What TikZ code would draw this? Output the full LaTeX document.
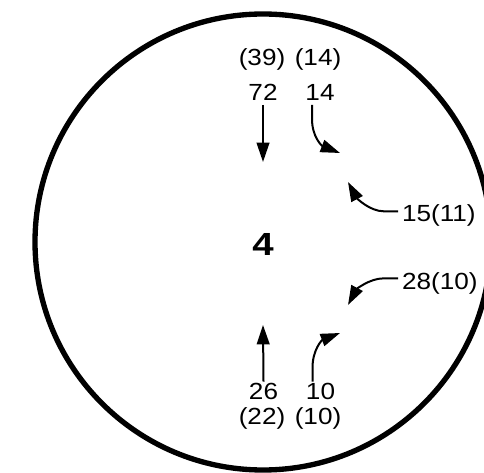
\documentclass[tikz,border=0pt]{standalone}
\usepackage{fontspec}
\setmainfont{Liberation Sans}
\usetikzlibrary{arrows.meta}
\tikzset{
  num/.style={inner sep=3pt, outer sep=0pt, anchor=base, font=\fontsize{17.5pt}{19pt}\selectfont},
  numw/.style={num, anchor=base west},
  big/.style={inner sep=0pt, anchor=center, font=\fontsize{24pt}{26pt}\selectfont\bfseries},
  flow/.style={line width=1.5pt, -{Triangle[length=14.5pt,width=9.5pt]}},
  cell/.style={line width=4pt}
}
\newcommand{\widen}[1]{\scalebox{1.12}[1]{#1}}
\newcommand{\widenb}[1]{\scalebox{1.2}[1]{#1}}
\begin{document}
\begin{tikzpicture}[x=0.75pt,y=-0.75pt]
\useasboundingbox (0,0) rectangle (484,473);
\clip (0,0) rectangle (484,473);
\draw[cell] (263,242) circle[radius=171pt];
% texts
\node[num] (t39) at (262,66) {\widen{(39)}};
\node[num] (t14p) at (318,66) {\widen{(14)}};
\node[num] (t72) at (263,101) {\widen{72}};
\node[num] (t14) at (320,101) {\widen{14}};
\node[numw] (t15) at (398,222) {\widen{15(11)}};
\node[big] (four) at (263,244) {\widenb{4}};
\node[numw] (t28) at (398,289) {\widen{28(10)}};
\node[num] (t26) at (263.5,399) {\widen{26}};
\node[num] (t10) at (320.5,399) {\widen{10}};
\node[num] (t22) at (262,424) {\widen{(22)}};
\node[num] (t10p) at (318,424) {\widen{(10)}};
% arrow ends
\coordinate (e72) at (263,162);
\coordinate (e14) at (340,153);
\coordinate (e15) at (348,182);
\coordinate (e28) at (348,305);
\coordinate (e10) at (340,333);
\coordinate (e26) at (263,325);
% arrows
\draw[flow] (t72.south) -- (e72);
\draw[flow] ([xshift=-6pt]t14.south) -- ++(0,14) .. controls ++(0,18) and (322,146) .. (e14);
\draw[flow] ([yshift=8pt]t15.base west) -- ++(-14,0) .. controls ++(-15,0) and (356,197) .. (e15);
\draw[flow] ([yshift=8pt]t28.base west) -- ++(-14,0) .. controls ++(-15,0) and (356,290) .. (e28);
\draw[flow] ([xshift=-6pt,yshift=13pt]t10.base) -- ++(0,-14) .. controls ++(0,-18) and (322,340) .. (e10);
\draw[flow] ([yshift=13pt]t26.base) -- (e26);
\end{tikzpicture}
\end{document}
